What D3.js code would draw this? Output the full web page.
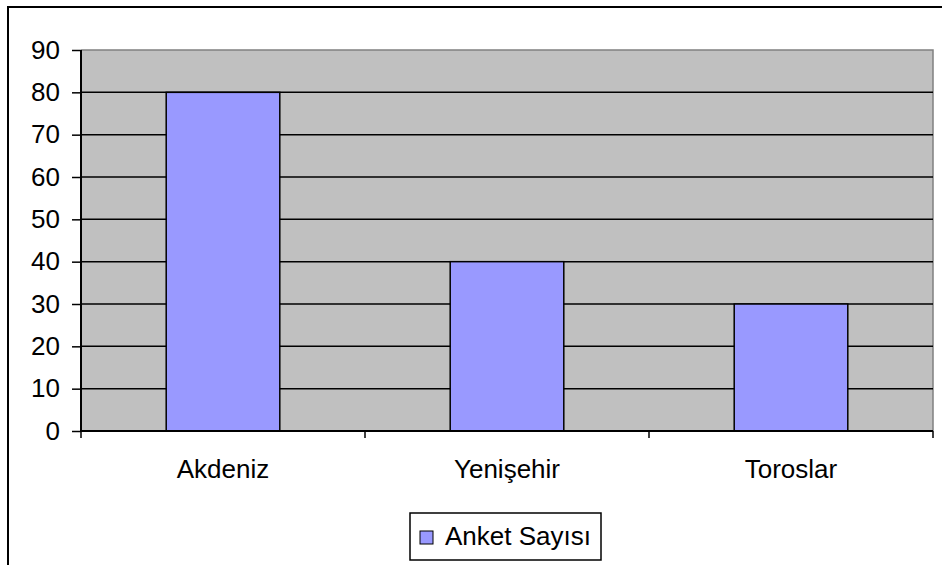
<!DOCTYPE html>
<html><head><meta charset="utf-8">
<script src="https://cdn.jsdelivr.net/npm/d3@7"></script>
<style>body{margin:0;background:#fff}svg{display:block;font-family:Arial,"Liberation Sans",sans-serif}</style>
</head><body><svg id="c" width="942" height="565"></svg>
<script>
const categories = ["Akdeniz", "Yenişehir", "Toroslar"];
const values = [80, 40, 30];
const yTicks = [0, 10, 20, 30, 40, 50, 60, 70, 80, 90];
const seriesName = "Anket Sayısı";

const FS = 26;
const svg = d3.select("#c");
svg.append("rect").attr("x", 8).attr("y", 7).attr("width", 960).attr("height", 600)
  .attr("fill", "#fff").attr("stroke", "#000").attr("stroke-width", 2);

const L = 81, R = 933, T = 50, B = 431;
const x = d3.scaleBand().domain(categories).range([L, R]).paddingInner(0).paddingOuter(0);
const y = d3.scaleLinear().domain([0, 90]).range([B, T]);

svg.append("rect").attr("x", L).attr("y", T).attr("width", R - L).attr("height", B - T).attr("fill", "#c0c0c0");
svg.append("path").attr("d", `M${L},${T}H${R}V${B}`).attr("fill", "none").attr("stroke", "#808080").attr("stroke-width", 1.5);

svg.append("g").selectAll("line").data(yTicks.filter(d => d > 0 && d < 90)).join("line")
  .attr("x1", L).attr("x2", R).attr("y1", d => y(d)).attr("y2", d => y(d))
  .attr("stroke", "#000").attr("stroke-width", 1.5);

const bw = x.bandwidth() * 0.4;
svg.append("g").selectAll("rect").data(values).join("rect")
  .attr("x", (d, i) => x(categories[i]) + (x.bandwidth() - bw) / 2)
  .attr("y", d => y(d)).attr("width", bw).attr("height", d => B - y(d))
  .attr("fill", "#9999ff").attr("stroke", "#000").attr("stroke-width", 1.5);

const yAxis = svg.append("g").attr("transform", `translate(${L},0)`)
  .call(d3.axisLeft(y).tickValues(yTicks).tickSize(9).tickPadding(12).tickFormat(d3.format("d")));
yAxis.attr("font-size", FS).attr("font-family", "Arial, 'Liberation Sans', sans-serif");
yAxis.select(".domain").attr("stroke", "#000").attr("stroke-width", 2).attr("d", `M0,${T}V${B + 1}`);
yAxis.selectAll(".tick line").attr("stroke", "#000").attr("stroke-width", 1.5);
yAxis.selectAll("text").attr("fill", "#000");

const xAxis = svg.append("g").attr("transform", `translate(0,${B})`);
xAxis.append("line").attr("x1", L).attr("x2", R).attr("stroke", "#000").attr("stroke-width", 2);
const bounds = [L].concat(categories.map(c => x(c) + x.bandwidth()));
xAxis.selectAll(".tk").data(bounds).join("line").attr("class", "tk")
  .attr("x1", d => d).attr("x2", d => d).attr("y1", 0).attr("y2", 7).attr("stroke", "#000").attr("stroke-width", 1.5);
xAxis.selectAll("text").data(categories).join("text")
  .attr("x", d => x(d) + x.bandwidth() / 2).attr("y", 47).attr("text-anchor", "middle")
  .attr("font-size", FS).attr("fill", "#000").text(d => d);

const lg = svg.append("g");
lg.append("rect").attr("x", 410).attr("y", 513).attr("width", 191).attr("height", 47).attr("fill", "#fff").attr("stroke", "#000").attr("stroke-width", 1.5);
lg.append("rect").attr("x", 420).attr("y", 531).attr("width", 13).attr("height", 13).attr("fill", "#9999ff").attr("stroke", "#000").attr("stroke-width", 1);
lg.append("text").attr("x", 445).attr("y", 545).attr("font-size", FS).attr("fill", "#000").text(seriesName);
</script></body></html>
